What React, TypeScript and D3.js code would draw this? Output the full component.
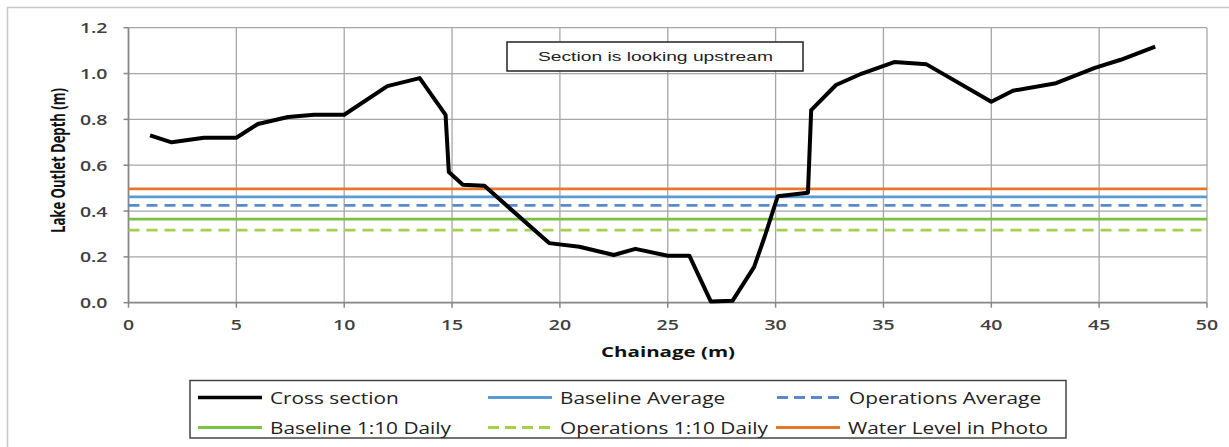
import React from "react";
import * as d3 from "d3";

const chainage = [1, 2, 3.5, 5, 6, 7.4, 8.6, 10, 12, 13.5, 14.7, 14.85, 15.5, 16.5, 19.5, 20.9, 22.5, 23.5, 25, 26, 27, 28, 29, 29.5, 30.1, 31.5, 31.65, 32.8, 34, 35.5, 37, 40, 41, 43, 44.8, 46, 47.6];
const depth = [0.73, 0.70, 0.72, 0.72, 0.78, 0.81, 0.82, 0.82, 0.945, 0.98, 0.82, 0.57, 0.515, 0.51, 0.26, 0.244, 0.208, 0.235, 0.205, 0.205, 0.005, 0.008, 0.155, 0.29, 0.465, 0.48, 0.84, 0.95, 1.0, 1.05, 1.04, 0.877, 0.925, 0.958, 1.025, 1.06, 1.117];

const levelNames = ["Baseline Average", "Operations Average", "Baseline 1:10 Daily", "Operations 1:10 Daily", "Water Level in Photo"];
const levelValues = [0.462, 0.425, 0.365, 0.317, 0.497];
const levelColors = ["#5B9BD5", "#5A8ACB", "#7CC143", "#A5CF4C", "#E8772E"];
const levelDashed = [false, true, false, true, false];

const xTicks = [0, 5, 10, 15, 20, 25, 30, 35, 40, 45, 50];
const yTicks = [0, 0.2, 0.4, 0.6, 0.8, 1.0, 1.2];

const W = 1229;
const H = 447;
const margin = { left: 128.5, right: 1207, top: 27.7, bottom: 302.7 };
const SX = 1.3;

export default function App() {
  const x = d3.scaleLinear().domain([0, 50]).range([margin.left, margin.right]);
  const y = d3.scaleLinear().domain([0, 1.2]).range([margin.bottom, margin.top]);
  const line = d3
    .line<number>()
    .x((_, i) => x(chainage[i]))
    .y((d) => y(d));
  const path = line(depth) || "";

  const legendItems = [
    { name: "Cross section", color: "#000", dashed: false, w: 3.5, col: 0, row: 0 },
    { name: levelNames[0], color: levelColors[0], dashed: levelDashed[0], w: 3, col: 1, row: 0 },
    { name: levelNames[1], color: levelColors[1], dashed: levelDashed[1], w: 3, col: 2, row: 0 },
    { name: levelNames[2], color: levelColors[2], dashed: levelDashed[2], w: 3, col: 0, row: 1 },
    { name: levelNames[3], color: levelColors[3], dashed: levelDashed[3], w: 3, col: 1, row: 1 },
    { name: levelNames[4], color: levelColors[4], dashed: levelDashed[4], w: 3, col: 2, row: 1 },
  ];
  const colX = [[198, 488, 777], [198, 488, 776]];
  const rowY = [397.5, 427.5];
  const tickFont = "'Open Sans', sans-serif";

  return (
    <svg
      width={W}
      height={H}
      style={{ position: "absolute", left: 0, top: 0, display: "block", background: "#fff" }}
    >
      <rect x={7.5} y={7.5} width={1240} height={460} fill="#fff" stroke="#c8c8c8" strokeWidth={1.5} />
      {/* grid */}
      {yTicks.filter((t) => t > 0).map((t) => (
        <line key={"gy" + t} x1={x(0)} x2={x(50)} y1={y(t)} y2={y(t)} stroke="#a6a6a6" strokeWidth={1.3} />
      ))}
      {xTicks.filter((t) => t > 0).map((t) => (
        <line key={"gx" + t} x1={x(t)} x2={x(t)} y1={y(0)} y2={y(1.2)} stroke="#a6a6a6" strokeWidth={1.3} />
      ))}
      {/* axes */}
      <line x1={x(0)} x2={x(0)} y1={y(0)} y2={y(1.2)} stroke="#868686" strokeWidth={1.8} />
      <line x1={x(0)} x2={x(50)} y1={y(0)} y2={y(0)} stroke="#868686" strokeWidth={1.8} />
      {yTicks.map((t) => (
        <line key={"ty" + t} x1={x(0) - 5} x2={x(0)} y1={y(t)} y2={y(t)} stroke="#868686" strokeWidth={1.5} />
      ))}
      {xTicks.map((t) => (
        <line key={"tx" + t} x1={x(t)} x2={x(t)} y1={y(0)} y2={y(0) + 5} stroke="#868686" strokeWidth={1.5} />
      ))}
      {yTicks.map((t) => (
        <text
          key={"ly" + t}
          transform={`translate(${x(0) - 21},${y(t) + 5.5}) scale(${SX},1)`}
          textAnchor="end"
          fontFamily={tickFont}
          fontWeight={600}
          fontSize={15}
          fill="#404040"
        >
          {d3.format(".1f")(t)}
        </text>
      ))}
      {xTicks.map((t) => (
        <text
          key={"lx" + t}
          transform={`translate(${x(t)},${330}) scale(${SX},1)`}
          textAnchor="middle"
          fontFamily={tickFont}
          fontWeight={600}
          fontSize={15}
          fill="#404040"
        >
          {t}
        </text>
      ))}
      {/* axis titles */}
      <text
        x={668}
        y={357}
        textAnchor="middle"
        fontFamily={tickFont}
        fontWeight={700}
        fontSize={15}
        fill="#111"
        textLength={134}
        lengthAdjust="spacingAndGlyphs"
      >
        Chainage (m)
      </text>
      <text
        transform={`translate(64.5,160.5) rotate(-90) scale(1,1.3)`}
        textAnchor="middle"
        fontFamily={tickFont}
        fontWeight={700}
        fontSize={14.5}
        fill="#111"
        textLength={145}
        lengthAdjust="spacingAndGlyphs"
      >
        Lake Outlet Depth (m)
      </text>
      {/* text box */}
      <rect x={507} y={42} width={296} height={29} fill="#fff" stroke="#222" strokeWidth={1.5} />
      <text
        x={655.5}
        y={61}
        textAnchor="middle"
        fontFamily="'Liberation Sans', Arial, sans-serif"
        fontSize={13.5}
        fill="#222"
        textLength={235}
        lengthAdjust="spacingAndGlyphs"
      >
        Section is looking upstream
      </text>
      {/* level lines */}
      {levelValues.map((v, i) => (
        <line
          key={"lv" + i}
          x1={x(0)}
          x2={x(50)}
          y1={y(v)}
          y2={y(v)}
          stroke={levelColors[i]}
          strokeWidth={2.8}
          strokeDasharray={levelDashed[i] ? "11,7" : undefined}
        />
      ))}
      {/* cross section */}
      <path d={path} fill="none" stroke="#000" strokeWidth={4} strokeLinejoin="round" />
      {/* legend */}
      <rect x={190} y={380.5} width={876} height={57.5} fill="#fff" stroke="#444" strokeWidth={1.5} />
      {legendItems.map((it, i) => {
        const lx = colX[it.row][it.col];
        const ly = rowY[it.row];
        return (
          <g key={"lg" + i}>
            <line
              x1={lx}
              x2={lx + 64}
              y1={ly}
              y2={ly}
              stroke={it.color}
              strokeWidth={it.w}
              strokeDasharray={it.dashed ? "11,6" : undefined}
            />
            <text
              transform={`translate(${lx + 72},${ly + 6}) scale(${SX},1)`}
              fontFamily={tickFont}
              fontSize={16}
              fill="#222"
            >
              {it.name}
            </text>
          </g>
        );
      })}
    </svg>
  );
}
